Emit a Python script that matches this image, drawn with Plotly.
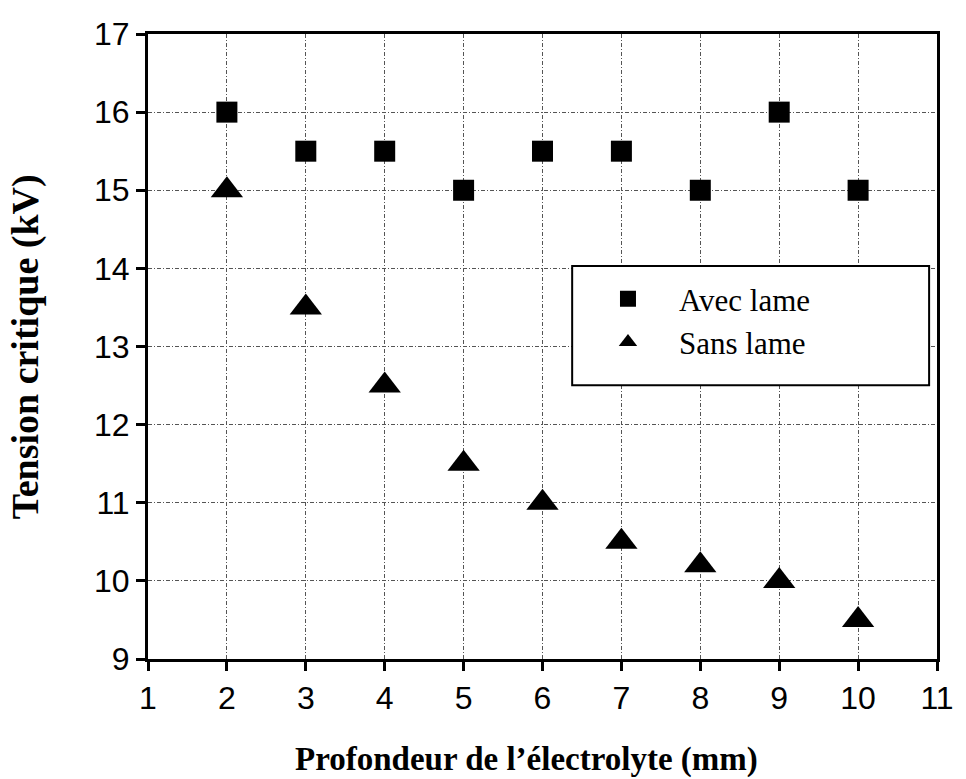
import plotly.graph_objects as go

# Measured critical voltage vs electrolyte depth
profondeur = [2, 3, 4, 5, 6, 7, 8, 9, 10]
avec_lame = [16, 15.5, 15.5, 15, 15.5, 15.5, 15, 16, 15]
sans_lame = [15, 13.5, 12.5, 11.5, 11, 10.5, 10.2, 10, 9.5]

x_ticks = list(range(1, 12))
y_ticks = list(range(9, 18))

serif = "Liberation Serif, Times New Roman, serif"
sans = "Liberation Sans, Arial, sans-serif"

fig = go.Figure()
fig.add_trace(go.Scatter(
    x=profondeur, y=avec_lame, mode="markers", name="\u2003Avec lame",
    marker=dict(symbol="square", size=21, color="black"),
))
fig.add_trace(go.Scatter(
    x=profondeur, y=sans_lame, mode="markers", name="\u2003Sans lame",
    marker=dict(symbol="triangle-up", size=28, color="black"),
))

axis_common = dict(
    showline=True, linewidth=3, linecolor="black", mirror=True,
    ticks="outside", ticklen=9, tickwidth=3, tickcolor="black",
    showgrid=True, gridcolor="#555", gridwidth=1, griddash="4px,2px,1px,2px",
    zeroline=False,
    tickfont=dict(family=sans, size=32, color="black"),
)

fig.update_xaxes(range=[1, 11], tickvals=x_ticks, **axis_common)
fig.update_yaxes(range=[9, 17], tickvals=y_ticks, **axis_common)

# Legend frame
fig.add_shape(type="rect", xref="paper", yref="paper",
              x0=0.5376, x1=0.99, y0=0.438, y1=0.629,
              line=dict(color="black", width=2), fillcolor="white", layer="above")

fig.update_layout(
    width=966, height=779,
    margin=dict(l=148, r=20, t=34, b=120),
    plot_bgcolor="white", paper_bgcolor="white",
    showlegend=True,
    legend=dict(
        x=0.583, y=0.619, xanchor="left", yanchor="top",
        bgcolor="rgba(0,0,0,0)", borderwidth=0,
        font=dict(family=serif, size=31, color="black"),
        itemsizing="trace",
    ),
    annotations=[
        dict(text="<b>Profondeur de l’électrolyte (mm)</b>", xref="paper", yref="paper",
             x=0.48, y=-0.16, xanchor="center", yanchor="middle", showarrow=False,
             font=dict(family=serif, size=33, color="black")),
        dict(text="<b>Tension critique (kV)</b>", xref="paper", yref="paper",
             x=-0.155, y=0.5, xanchor="center", yanchor="middle", showarrow=False,
             textangle=-90,
             font=dict(family=serif, size=38, color="black")),
    ],
)

fig.write_html("out.html")
